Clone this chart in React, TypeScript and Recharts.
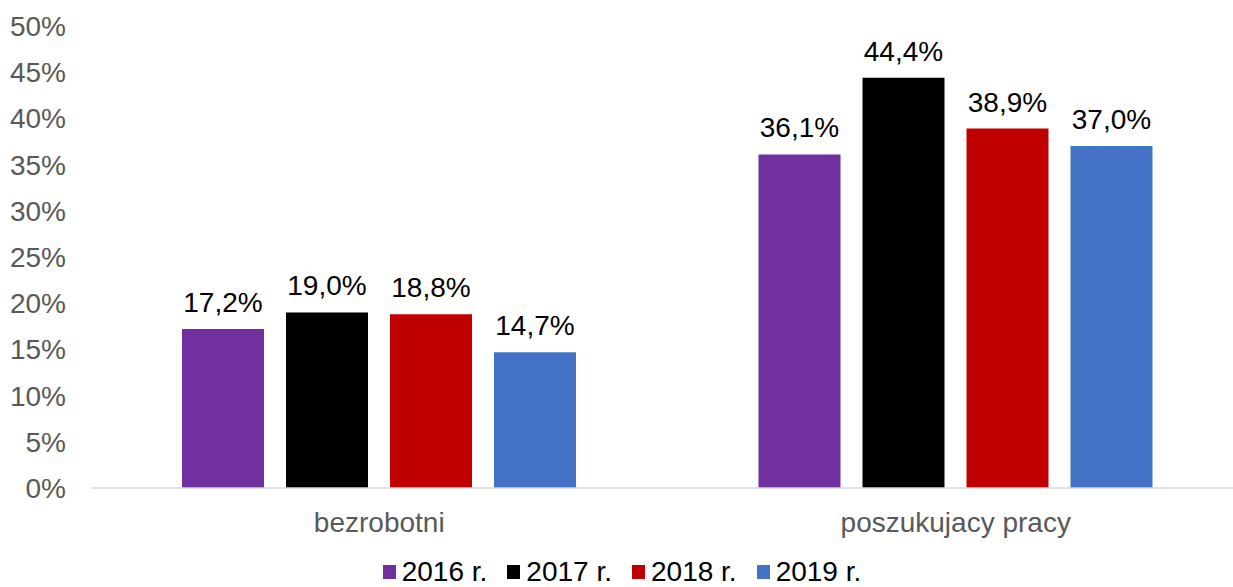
import React from 'react';
import { BarChart, Bar, XAxis, YAxis, Legend, LabelList } from 'recharts';

const categories = ['bezrobotni', 'poszukujacy pracy'];
const years = ['2016 r.', '2017 r.', '2018 r.', '2019 r.'];
const colors = ['#7030A0', '#000000', '#C00000', '#4472C4'];
const values2016 = [17.2, 36.1];
const values2017 = [19.0, 44.4];
const values2018 = [18.8, 38.9];
const values2019 = [14.7, 37.0];
const yTicks = [0, 5, 10, 15, 20, 25, 30, 35, 40, 45, 50];

const seriesValues = [values2016, values2017, values2018, values2019];
const keys = ['y2016', 'y2017', 'y2018', 'y2019'];

const data = categories.map((name, i) => {
  const row: Record<string, string | number> = { name };
  keys.forEach((k, s) => {
    row[k] = seriesValues[s][i];
  });
  return row;
});

const FONT = '"Liberation Sans", Arial, sans-serif';

const fmt = (v: number) => v.toFixed(1).replace('.', ',') + '%';

const TopLabel = (props: any) => {
  const { x, y, width, value } = props;
  return (
    <text x={x + width / 2} y={y - 17} textAnchor="middle" fill="#000" fontSize={28} fontFamily={FONT}>
      {fmt(value)}
    </text>
  );
};

// legend hugs the bottom edge, as in the source picture
const LegendBox = () => (
  <div style={{ display: 'flex', justifyContent: 'center', alignItems: 'flex-start', height: 52, paddingTop: 8, boxSizing: 'border-box', fontFamily: FONT, fontSize: 28, lineHeight: '32px', color: '#000' }}>
    {years.map((y, i) => (
      <div key={y} style={{ display: 'flex', alignItems: 'center', height: 32, marginRight: i < years.length - 1 ? 20 : 0 }}>
        <span style={{ display: 'inline-block', width: 13, height: 14, background: colors[i], marginRight: 6 }} />
        <span>{y}</span>
      </div>
    ))}
  </div>
);

export default function App() {
  return (
    <div style={{ position: 'fixed', left: 0, top: 0, width: 1233, height: 587, overflow: 'hidden', background: '#fff' }}>
      <BarChart
        width={1245}
        height={600}
        data={data}
        margin={{ top: 26, right: 1, left: 0, bottom: 0 }}
        barSize={82}
        barGap={22}
      >
        <XAxis
          dataKey="name"
          height={60}
          tickLine={false}
          tickSize={6}
          tickMargin={18}
          axisLine={{ stroke: '#D9D9D9', strokeWidth: 1.5 }}
          tick={{ fill: '#595959', fontSize: 28, fontFamily: FONT }}
        />
        <YAxis
          width={91}
          domain={[0, 50]}
          ticks={yTicks}
          interval={0}
          axisLine={false}
          tickLine={false}
          tickSize={6}
          tickMargin={19}
          tickFormatter={(v: number) => `${v}%`}
          tick={{ fill: '#595959', fontSize: 28, fontFamily: FONT }}
        />
        <Legend verticalAlign="bottom" height={52} content={<LegendBox />} />
        {keys.map((k, i) => (
          <Bar key={k} dataKey={k} name={years[i]} fill={colors[i]} isAnimationActive={false}>
            <LabelList dataKey={k} content={<TopLabel />} />
          </Bar>
        ))}
      </BarChart>
    </div>
  );
}
